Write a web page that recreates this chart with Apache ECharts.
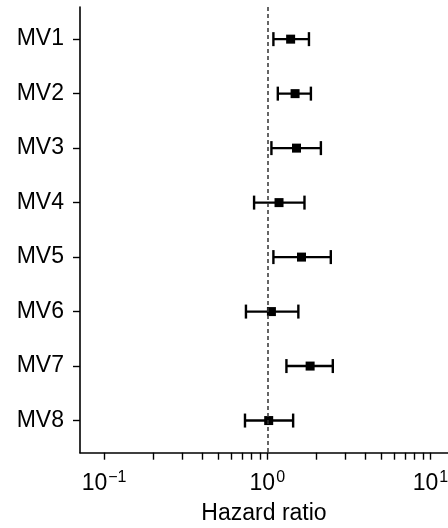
<!DOCTYPE html>
<html>
<head>
<meta charset="utf-8">
<script src="https://cdn.jsdelivr.net/npm/echarts@6/dist/echarts.min.js"></script>
<style>
  html, body { margin: 0; padding: 0; background: #fff; }
  #chart { width: 448px; height: 528px; }
</style>
</head>
<body>
<div id="chart"></div>
<script>
// Forest plot: hazard ratios with 95% confidence intervals per variable
const categories = ['MV1', 'MV2', 'MV3', 'MV4', 'MV5', 'MV6', 'MV7', 'MV8'];
const hazardRatio = [1.39, 1.48, 1.51, 1.18, 1.62, 1.06, 1.83, 1.02];
const ciLower = [1.09, 1.16, 1.06, 0.83, 1.09, 0.74, 1.31, 0.73];
const ciUpper = [1.80, 1.85, 2.13, 1.69, 2.45, 1.55, 2.52, 1.44];
const rowPositions = [1, 2, 3, 4, 5, 6, 7, 8];

// log-axis ticks (majors at powers of ten, minors at 2..9 of each decade)
const xTickValues = [0.1, 0.2, 0.3, 0.4, 0.5, 0.6, 0.7, 0.8, 0.9,
                     1, 2, 3, 4, 5, 6, 7, 8, 9, 10];
const xLabelValues = [0.1, 1, 10];
const referenceValue = 1;

const FONT = 'Liberation Sans';
const INK = '#000';

const chart = echarts.init(document.getElementById('chart'), null, { renderer: 'canvas' });

const errorBars = categories.map((c, i) => [ciLower[i], ciUpper[i], rowPositions[i]]);
const points = categories.map((c, i) => [hazardRatio[i], rowPositions[i]]);

function powerLabel(v) {
  const e = Math.round(Math.log10(v));
  const exp = e < 0 ? '\u2212' + (-e) : String(e);
  return '{b|10}{s|' + exp + '}';
}

chart.setOption({
  animation: false,
  backgroundColor: '#fff',
  grid: { left: 80, right: 0, top: 7, bottom: 75.3, containLabel: false, outerBoundsMode: 'none' },
  xAxis: {
    type: 'log',
    logBase: 10,
    min: 0.0712,
    max: 12.8,
    axisLine: { show: true, lineStyle: { color: INK, width: 1.6 } },
    axisTick: {
      show: true, inside: false, length: 7,
      customValues: xTickValues,
      lineStyle: { color: INK, width: 1.4 }
    },
    minorTick: { show: false },
    splitLine: { show: false },
    axisLabel: {
      customValues: xLabelValues,
      margin: 17,
      formatter: powerLabel,
      rich: {
        b: { fontFamily: FONT, fontSize: 23, color: INK },
        s: { fontFamily: FONT, fontSize: 16, color: INK, padding: [0, 0, 11, 1] }
      }
    },
    name: 'Hazard ratio',
    nameLocation: 'middle',
    nameGap: 49,
    nameTextStyle: { fontFamily: FONT, fontSize: 23, color: INK }
  },
  yAxis: {
    type: 'value',
    inverse: true,
    min: 0.41,
    max: 8.59,
    axisLine: { show: true, lineStyle: { color: INK, width: 1.6 } },
    axisTick: {
      show: true, inside: false, length: 7,
      customValues: rowPositions,
      lineStyle: { color: INK, width: 1.4 }
    },
    splitLine: { show: false },
    axisLabel: {
      customValues: rowPositions,
      margin: 16,
      fontFamily: FONT,
      fontSize: 23,
      color: INK,
      formatter: v => categories[Math.round(v) - 1]
    }
  },
  series: [
    {
      type: 'custom',
      name: 'CI',
      data: errorBars,
      encode: { x: [0, 1], y: 2 },
      z: 2,
      renderItem: function (params, api) {
        const lo = api.coord([api.value(0), api.value(2)]);
        const hi = api.coord([api.value(1), api.value(2)]);
        const cap = 7;
        const style = { stroke: INK, lineWidth: 2.4, fill: null };
        return {
          type: 'group',
          children: [
            { type: 'line', shape: { x1: lo[0], y1: lo[1], x2: hi[0], y2: hi[1] }, style: style },
            { type: 'line', shape: { x1: lo[0], y1: lo[1] - cap, x2: lo[0], y2: lo[1] + cap }, style: style },
            { type: 'line', shape: { x1: hi[0], y1: hi[1] - cap, x2: hi[0], y2: hi[1] + cap }, style: style }
          ]
        };
      }
    },
    {
      type: 'scatter',
      name: 'HR',
      data: points,
      symbol: 'rect',
      symbolSize: 9,
      itemStyle: { color: INK, opacity: 1 },
      z: 3,
      markLine: {
        silent: true,
        symbol: ['none', 'none'],
        label: { show: false },
        lineStyle: { color: '#333', width: 1.5, type: [4, 3] },
        data: [{ xAxis: referenceValue }]
      }
    }
  ]
});
</script>
</body>
</html>
